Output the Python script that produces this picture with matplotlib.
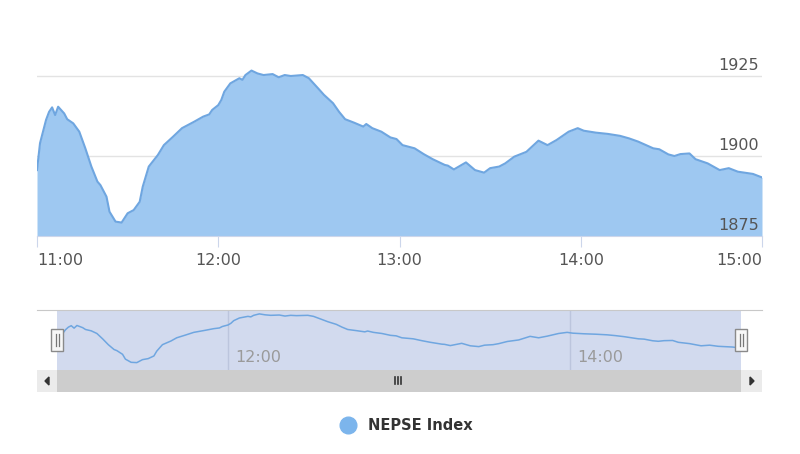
import matplotlib
matplotlib.use("Agg")
import matplotlib.pyplot as plt
from matplotlib.lines import Line2D
from matplotlib.patches import Rectangle, Polygon

# NEPSE index intraday
times = ["11:00", "11:01", "11:03", "11:04", "11:05", "11:06", "11:07", "11:09", "11:10",
         "11:12", "11:14", "11:16", "11:18", "11:20", "11:21", "11:23", "11:24", "11:26",
         "11:28", "11:30", "11:32", "11:34", "11:35", "11:37", "11:40", "11:42", "11:45",
         "11:48", "11:52", "11:55", "11:57", "11:58", "12:00", "12:01", "12:02", "12:04",
         "12:07", "12:08", "12:09", "12:11", "12:13", "12:15", "12:18", "12:20", "12:22",
         "12:24", "12:28", "12:30", "12:33", "12:35", "12:38", "12:40", "12:42", "12:45",
         "12:48", "12:49", "12:51", "12:54", "12:57", "12:59", "13:01", "13:05", "13:08",
         "13:11", "13:15", "13:16", "13:18", "13:22", "13:25", "13:28", "13:30", "13:33",
         "13:35", "13:38", "13:42", "13:46", "13:49", "13:52", "13:56", "13:59", "14:01",
         "14:05", "14:09", "14:13", "14:16", "14:19", "14:24", "14:26", "14:29", "14:31",
         "14:33", "14:36", "14:38", "14:42", "14:46", "14:49", "14:52", "14:57", "15:00"]
values = [1895.6, 1904.0, 1911.3, 1913.8, 1915.2, 1912.8, 1915.4, 1913.3, 1911.5,
          1910.2, 1907.6, 1902.4, 1896.7, 1892.0, 1890.9, 1887.3, 1882.6, 1879.5,
          1879.2, 1882.1, 1883.1, 1885.7, 1890.4, 1896.7, 1900.3, 1903.4, 1906.0,
          1908.7, 1910.7, 1912.3, 1913.0, 1914.4, 1915.9, 1917.5, 1920.1, 1922.7,
          1924.3, 1923.8, 1925.3, 1926.7, 1925.8, 1925.3, 1925.6, 1924.6, 1925.3,
          1925.0, 1925.3, 1924.3, 1921.2, 1919.1, 1916.5, 1913.8, 1911.5, 1910.4,
          1909.2, 1910.0, 1908.7, 1907.6, 1905.8, 1905.3, 1903.4, 1902.4, 1900.6,
          1899.0, 1897.2, 1897.0, 1895.8, 1898.0, 1895.6, 1894.8, 1896.2, 1896.7,
          1897.7, 1899.8, 1901.3, 1904.8, 1903.4, 1905.0, 1907.6, 1908.7, 1907.9,
          1907.3, 1906.9, 1906.3, 1905.5, 1904.5, 1902.4, 1902.1, 1900.5, 1900.0,
          1900.6, 1900.8, 1899.0, 1897.7, 1895.6, 1896.2, 1895.1, 1894.4, 1893.3]
series_name = "NEPSE Index"
x_ticks = ["11:00", "12:00", "13:00", "14:00", "15:00"]
nav_ticks = ["12:00", "14:00"]
y_ticks = [1875, 1900, 1925]


def to_min(t):
    h, m = t.split(":")
    return (int(h) - 11) * 60 + int(m)


xs = [to_min(t) for t in times]

W, H = 800, 454
fig = plt.figure(figsize=(W / 100, H / 100), dpi=100)
plt.rcParams['font.family'] = ['DejaVu Sans']


def box(l, t, r, b):
    return [l / W, 1 - b / H, (r - l) / W, (b - t) / H]


line_c = '#6fa6e0'
fill_c = '#9ec8f1'

# main chart
ax = fig.add_axes(box(37, 55, 762, 236))
ax.fill_between(xs, values, 1870, color=fill_c, lw=0)
ax.plot(xs, values, color=line_c, lw=1.5)
ax.set_xlim(0, 240)
ax.set_ylim(1875, 1875 + 181 / 3.2)
for s in ax.spines.values():
    s.set_visible(False)
ax.spines['bottom'].set_visible(True)
ax.spines['bottom'].set_color('#ccd6eb')
for v in y_ticks[1:]:
    ax.axhline(v, color='#e3e3e3', lw=1, zorder=0)
ax.set_yticks([])
ax.set_xticks([to_min(t) for t in x_ticks])
ax.set_xticklabels(x_ticks)
ax.tick_params(axis='x', length=8, color='#ccd6eb', labelsize=11.5,
               labelcolor='#555555', pad=4)
labels = ax.get_xticklabels()
labels[0].set_ha('left')
labels[-1].set_ha('right')
for v in y_ticks:
    ax.annotate(str(v), (1, v), xycoords=('axes fraction', 'data'),
                xytext=(-2, 2), textcoords='offset points', ha='right', va='bottom',
                fontsize=11.5, color='#555555')

# navigator
nav = fig.add_axes(box(37, 310, 762, 370))
px_per_min = (741 - 57) / 240
nav.set_xlim(-20 / px_per_min, 240 + 21 / px_per_min)
nav.set_ylim(1872, 1930.5)
nav.axvspan(0, 240, color='#d2daee', lw=0, zorder=0)
for t in nav_ticks:
    nav.axvline(to_min(t), color='#bcc5dd', lw=1, zorder=1)
    nav.text(to_min(t) + 2.6, 0.2, t, transform=nav.get_xaxis_transform(),
             ha='left', va='center', fontsize=11.5, color='#9a9a9a')
nav.plot(xs, values, color=line_c, lw=1.1, zorder=2)
nav.set_xticks([])
nav.set_yticks([])
for s in nav.spines.values():
    s.set_visible(False)
nav.spines['top'].set_visible(True)
nav.spines['top'].set_color('#c8c8c8')

# scrollbar, handles (pixel overlay)
ov = fig.add_axes([0, 0, 1, 1])
ov.set_xlim(0, W)
ov.set_ylim(H, 0)
ov.axis('off')
ov.add_patch(Rectangle((37, 370), 725, 22, color='#f0f0f0', lw=0))
ov.add_patch(Rectangle((57, 370), 684, 22, color='#cdcdcd', lw=0))
ov.add_patch(Rectangle((37, 370), 20, 22, color='#ebebeb', lw=0))
ov.add_patch(Rectangle((741, 370), 21, 22, color='#ebebeb', lw=0))
ov.add_patch(Polygon([[49, 377], [49, 385], [45, 381]], color='#333333'))
ov.add_patch(Polygon([[750, 377], [750, 385], [754, 381]], color='#333333'))
for gx in (395, 398, 401):
    ov.plot([gx, gx], [377, 384], color='#333333', lw=1.2)
for hx in (57, 741):
    ov.add_patch(Rectangle((hx - 6, 329), 12, 22, facecolor='#f7f7f7',
                           edgecolor='#8a8a8a', lw=1, zorder=5))
    for d in (-1.5, 1.5):
        ov.plot([hx + d, hx + d], [334, 346], color='#777777', lw=0.9, zorder=6)

# legend
h = Line2D([], [], marker='o', ls='', color='#7cb5ec', markersize=12)
fig.legend([h], [series_name], loc='center', bbox_to_anchor=(403 / W, 1 - 426 / H),
           frameon=False, prop={'weight': 'bold', 'size': 10.5}, labelcolor='#333333',
           handletextpad=0.4)

fig.savefig("out.png", dpi=100)
